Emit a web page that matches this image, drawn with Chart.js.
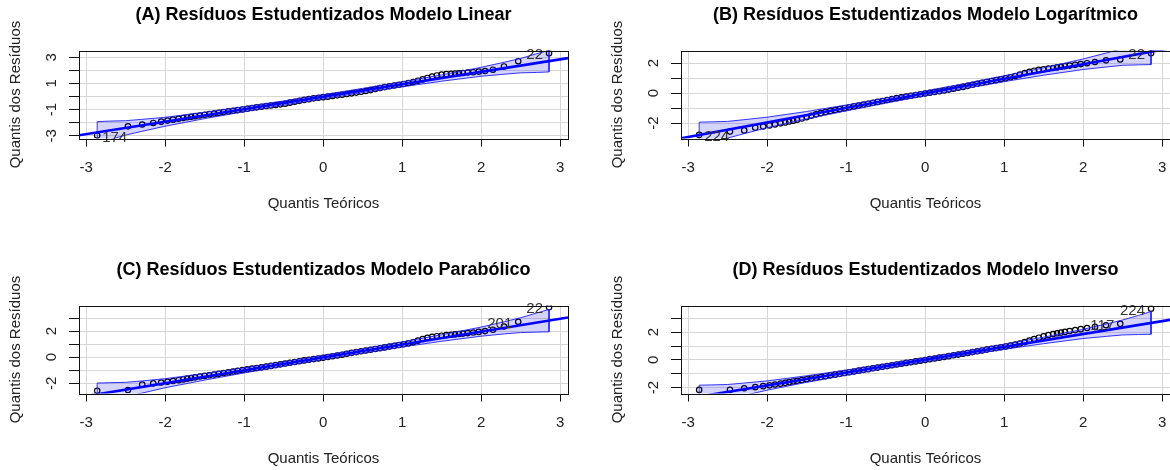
<!DOCTYPE html>
<html>
<head>
<meta charset="utf-8">
<script src="https://cdn.jsdelivr.net/npm/chart.js@4.4.1/dist/chart.umd.min.js"></script>
<style>
  body { margin: 0; width: 1170px; height: 470px; overflow: hidden; background: #fff; position: relative; }
  canvas { position: absolute; }
</style>
</head>
<body>
<canvas id="qqA" width="585" height="235" style="left:0;top:0"></canvas>
<canvas id="qqB" width="585" height="235" style="left:602px;top:0"></canvas>
<canvas id="qqC" width="585" height="235" style="left:0;top:255px"></canvas>
<canvas id="qqD" width="585" height="235" style="left:602px;top:255px"></canvas>
<script>
// titles
const panelTitles = [
  '(A) Resíduos Estudentizados Modelo Linear',
  '(B) Resíduos Estudentizados Modelo Logarítmico',
  '(C) Resíduos Estudentizados Modelo Parabólico',
  '(D) Resíduos Estudentizados Modelo Inverso'
];

// theoretical quantiles (shared by the four panels)
const quantX = [-2.86, -2.47, -2.29, -2.15, -2.05, -1.97, -1.90, -1.83, -1.77, -1.72, -1.67, -1.62,
  -1.56, -1.50, -1.44, -1.38, -1.32, -1.26, -1.20, -1.14, -1.08, -1.02, -0.96, -0.90, -0.84, -0.78,
  -0.72, -0.66, -0.60, -0.54, -0.48, -0.42, -0.36, -0.30, -0.24, -0.18, -0.12, -0.06, 0.00, 0.06,
  0.12, 0.18, 0.24, 0.30, 0.36, 0.42, 0.48, 0.54, 0.60, 0.66, 0.72, 0.78, 0.84, 0.90, 0.96, 1.02,
  1.08, 1.14, 1.20, 1.26, 1.32, 1.38, 1.44, 1.50, 1.56,
  1.62, 1.67, 1.72, 1.77, 1.83, 1.90, 1.97, 2.05, 2.15, 2.29, 2.47, 2.86];

// studentized residuals (sorted), one list per model
const resLinear = [-2.98, -2.28, -2.14, -2.02, -1.92, -1.84, -1.77, -1.70, -1.64, -1.59, -1.55, -1.50,
  -1.45, -1.40, -1.35, -1.30, -1.25, -1.19, -1.14, -1.09, -1.04, -0.99, -0.94, -0.88, -0.83, -0.78,
  -0.73, -0.69, -0.65, -0.60, -0.55, -0.47, -0.40, -0.33, -0.26, -0.20, -0.14, -0.09, -0.05, -0.01,
  0.04, 0.09, 0.14, 0.19, 0.24, 0.30, 0.36, 0.42, 0.49, 0.57, 0.65, 0.72, 0.78, 0.84, 0.90, 0.96,
  1.03, 1.11, 1.21, 1.31, 1.42, 1.53, 1.61, 1.67, 1.71,
  1.74, 1.76, 1.78, 1.80, 1.83, 1.86, 1.90, 1.95, 2.05, 2.30, 2.70, 3.30];
const resLog = [-2.78, -2.56, -2.48, -2.30, -2.22, -2.15, -2.08, -2.01, -1.95, -1.89, -1.83, -1.77,
  -1.69, -1.60, -1.50, -1.41, -1.33, -1.25, -1.18, -1.12, -1.06, -1.00, -0.94, -0.88, -0.82, -0.76,
  -0.70, -0.64, -0.58, -0.52, -0.45, -0.39, -0.33, -0.27, -0.22, -0.17, -0.12, -0.07, -0.02, 0.03,
  0.08, 0.13, 0.18, 0.24, 0.30, 0.36, 0.42, 0.49, 0.56, 0.63, 0.69, 0.75, 0.81, 0.87, 0.93, 0.99,
  1.06, 1.14, 1.24, 1.34, 1.43, 1.50, 1.56, 1.60, 1.64,
  1.68, 1.72, 1.76, 1.80, 1.84, 1.89, 1.94, 2.00, 2.08, 2.19, 2.25, 2.67];
const resParab = [-2.58, -2.52, -2.10, -2.01, -1.95, -1.89, -1.83, -1.77, -1.71, -1.65, -1.60, -1.55,
  -1.49, -1.44, -1.39, -1.33, -1.28, -1.22, -1.17, -1.11, -1.05, -0.99, -0.93, -0.88, -0.83, -0.78,
  -0.73, -0.67, -0.61, -0.55, -0.49, -0.43, -0.37, -0.31, -0.25, -0.20, -0.15, -0.10, -0.05, 0.01,
  0.07, 0.13, 0.19, 0.26, 0.33, 0.39, 0.45, 0.51, 0.57, 0.63, 0.69, 0.75, 0.81, 0.87, 0.93, 0.99,
  1.06, 1.15, 1.27, 1.39, 1.49, 1.56, 1.61, 1.65, 1.69,
  1.72, 1.75, 1.78, 1.81, 1.85, 1.89, 1.94, 2.00, 2.10, 2.35, 2.72, 3.83];
const resInv = [-2.17, -2.17, -2.05, -1.97, -1.90, -1.84, -1.78, -1.72, -1.66, -1.61, -1.56, -1.51,
  -1.46, -1.40, -1.35, -1.29, -1.24, -1.18, -1.12, -1.07, -1.01, -0.95, -0.89, -0.84, -0.78, -0.72,
  -0.67, -0.61, -0.56, -0.50, -0.45, -0.39, -0.33, -0.28, -0.22, -0.17, -0.11, -0.06, -0.01, 0.05,
  0.10, 0.16, 0.21, 0.27, 0.33, 0.38, 0.44, 0.50, 0.56, 0.62, 0.68, 0.74, 0.80, 0.85, 0.91, 0.97,
  1.03, 1.10, 1.18, 1.28, 1.39, 1.50, 1.60, 1.70, 1.79,
  1.86, 1.92, 1.97, 2.02, 2.08, 2.15, 2.22, 2.30, 2.38, 2.50, 2.60, 3.70];
const residuals = [resLinear, resLog, resParab, resInv];

// reference line (intercept + slope)
const lineIntercept = [-0.02, -0.01, -0.02, 0.01];
const lineSlope = [0.953, 0.97, 0.99, 0.93];

// confidence envelope
const envX = [-2.86, -2.7, -2.5, -2.3, -2.0, -1.5, -1.0, -0.5, 0, 0.5, 1.0, 1.5, 2.0, 2.3, 2.5, 2.7, 2.86];
const envUpper = [
  [-1.92, -1.88, -1.85, -1.75, -1.59, -1.21, -0.78, -0.34, 0.14, 0.62, 1.12, 1.65, 2.23, 2.63, 2.91, 3.26, 3.54],
  [-1.93, -1.91, -1.88, -1.77, -1.60, -1.22, -0.79, -0.33, 0.15, 0.64, 1.16, 1.69, 2.28, 2.69, 2.98, 3.33, 3.61],
  [-1.99, -1.96, -1.93, -1.83, -1.65, -1.26, -0.82, -0.35, 0.14, 0.64, 1.17, 1.72, 2.31, 2.73, 3.03, 3.38, 3.67],
  [-1.83, -1.81, -1.78, -1.68, -1.52, -1.15, -0.74, -0.30, 0.16, 0.63, 1.13, 1.64, 2.21, 2.60, 2.88, 3.21, 3.49]
];
const envLower = [
  [-3.58, -3.30, -2.95, -2.67, -2.27, -1.69, -1.16, -0.66, -0.18, 0.30, 0.74, 1.17, 1.55, 1.71, 1.81, 1.84, 1.88],
  [-3.63, -3.35, -2.99, -2.71, -2.30, -1.71, -1.18, -0.66, -0.17, 0.31, 0.77, 1.20, 1.58, 1.75, 1.86, 1.89, 1.91],
  [-3.71, -3.42, -3.07, -2.77, -2.35, -1.76, -1.21, -0.69, -0.18, 0.31, 0.78, 1.22, 1.61, 1.79, 1.89, 1.92, 1.95],
  [-3.47, -3.19, -2.86, -2.58, -2.19, -1.62, -1.11, -0.62, -0.14, 0.32, 0.76, 1.17, 1.54, 1.70, 1.80, 1.83, 1.85]
];

// labelled points: [index, id]
const pointLabels = [
  [[0, '174'], [76, '22']],
  [[0, '224'], [76, '22']],
  [[75, '201'], [76, '22']],
  [[75, '117'], [76, '224']]
];

// axes
const xTicks = [-3, -2, -1, 0, 1, 2, 3];
const xRange = [-3.09, 3.1];
const yRange = [[-3.21, 3.51], [-3.02, 2.84], [-2.79, 3.96], [-2.43, 3.92]];
const yTicks = [[-3, -2, -1, 0, 1, 2, 3], [-2, -1, 0, 1, 2], [-2, -1, 0, 1, 2, 3], [-2, -1, 0, 1, 2, 3]];
const yTickLabels = [[-3, -1, 1, 3], [-2, 0, 2], [-2, 0, 2], [-2, 0, 2]];

const FONT = '"Liberation Sans", Arial, sans-serif';
Chart.defaults.font.family = FONT;

// frame, rotated y labels and point ids
const qqExtras = {
  id: 'qqExtras',
  afterDatasetsDraw(chart, args, opts) {
    const { ctx, chartArea: a, scales: { x, y } } = chart;
    const k = opts.panel;

    ctx.save();
    ctx.font = '15px ' + FONT;
    ctx.fillStyle = '#333';
    ctx.textBaseline = 'middle';
    pointLabels[k].forEach(([i, txt]) => {
      const px = x.getPixelForValue(quantX[i]);
      const py = y.getPixelForValue(residuals[k][i]);
      const onRight = quantX[i] < 0;
      ctx.textAlign = onRight ? 'left' : 'right';
      ctx.fillText(txt, px + (onRight ? 5 : -6), py + 2);
    });
    ctx.restore();

    ctx.save();
    ctx.strokeStyle = '#111';
    ctx.lineWidth = 1;
    const l = Math.round(a.left) + 0.5, t = Math.round(a.top) + 0.5;
    ctx.strokeRect(l, t, Math.round(a.right) - Math.round(a.left), Math.round(a.bottom) - Math.round(a.top));

    ctx.font = '15px ' + FONT;
    ctx.fillStyle = '#222';
    ctx.textAlign = 'center';
    ctx.textBaseline = 'middle';
    yTickLabels[k].forEach(v => {
      ctx.save();
      ctx.translate(a.left - 27, y.getPixelForValue(v));
      ctx.rotate(-Math.PI / 2);
      ctx.fillText(String(v), 0, 0);
      ctx.restore();
    });
    ctx.restore();
  }
};

function qqChart(canvasId, k) {
  const pts = quantX.map((x, i) => ({ x: x, y: residuals[k][i] }));
  const env = envX.map((x, i) => ({ x: x, y: envUpper[k][i] }))
    .concat(envX.map((x, i) => ({ x: x, y: envLower[k][i] })).reverse());
  env.push(env[0]);
  const line = xRange.map(x => ({ x: x, y: lineIntercept[k] + lineSlope[k] * x }));

  new Chart(document.getElementById(canvasId), {
    type: 'scatter',
    data: {
      datasets: [
        { data: line, showLine: true, borderColor: '#0000ff', borderWidth: 2.6, pointRadius: 0, order: 1 },
        { data: env, showLine: true, fill: 'shape', backgroundColor: 'rgba(0,0,255,0.17)',
          borderColor: 'rgba(30,30,255,0.9)', borderWidth: 1, pointRadius: 0, tension: 0, order: 2 },
        { data: pts, pointRadius: 2.7, pointBorderWidth: 1.2, pointBorderColor: '#000',
          pointBackgroundColor: 'rgba(0,0,0,0)', order: 3 }
      ]
    },
    options: {
      responsive: false,
      animation: false,
      layout: { padding: { left: 0, right: 17, top: 0, bottom: 0 } },
      plugins: {
        legend: { display: false },
        tooltip: { enabled: false },
        title: {
          display: true, text: panelTitles[k], fullSize: false, color: '#000',
          font: { size: 18, weight: 'bold' }, padding: { top: 4, bottom: 25 }
        },
        qqExtras: { panel: k }
      },
      scales: {
        x: {
          type: 'linear', min: xRange[0], max: xRange[1],
          afterBuildTicks: s => { s.ticks = xTicks.map(v => ({ value: v })); },
          afterFit: s => { s.height = 96.5; },
          grid: { color: '#d6d6d6', tickColor: '#111', tickLength: 8 },
          border: { display: false },
          ticks: { color: '#222', font: { size: 15 }, padding: 12, maxRotation: 0, autoSkip: false, callback: v => String(v) },
          title: { display: true, text: 'Quantis Teóricos', color: '#222', font: { size: 15 }, padding: { top: 0, bottom: 22 } }
        },
        y: {
          type: 'linear', min: yRange[k][0], max: yRange[k][1],
          afterBuildTicks: s => { s.ticks = yTicks[k].map(v => ({ value: v })); },
          afterFit: s => { s.width = 79; },
          grid: { color: '#d6d6d6', tickColor: '#111', tickLength: 10 },
          border: { display: false },
          ticks: { display: false },
          title: { display: true, text: 'Quantis dos Resíduos', color: '#222', font: { size: 15 }, padding: { top: 7, bottom: 0 } }
        }
      }
    },
    plugins: [qqExtras]
  });
}

qqChart('qqA', 0);
qqChart('qqB', 1);
qqChart('qqC', 2);
qqChart('qqD', 3);
</script>
</body>
</html>
